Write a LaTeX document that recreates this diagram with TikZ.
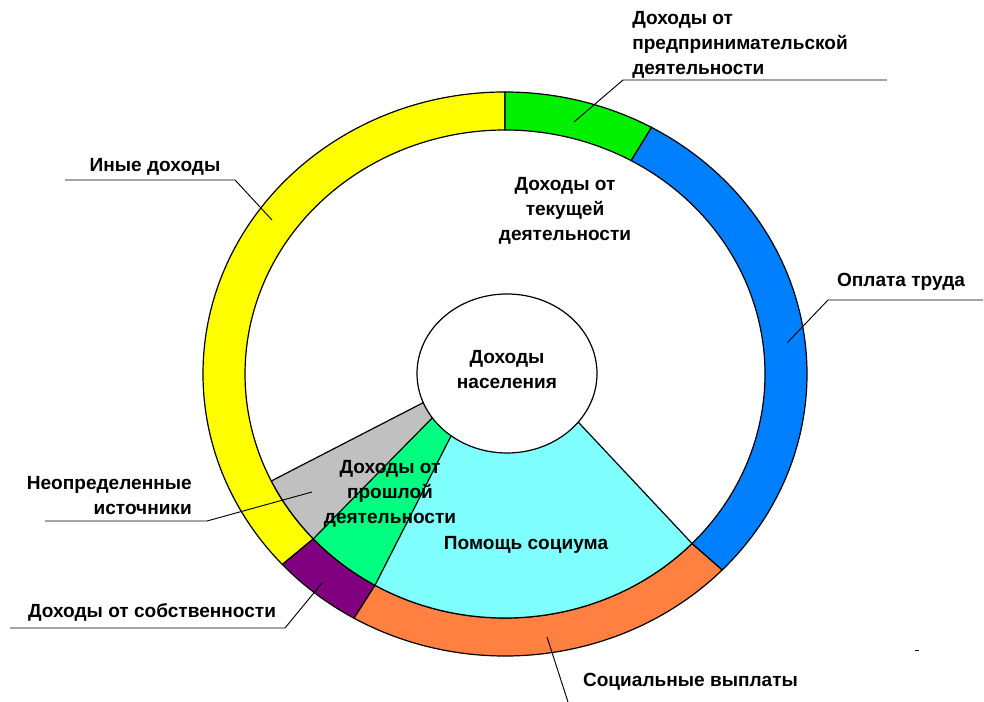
\documentclass[tikz,border=0pt]{standalone}
\usepackage{fontspec}
\setmainfont{Liberation Sans}
\usetikzlibrary{calc,shapes.geometric}
\definecolor{ringyellow}{RGB}{255,255,0}
\definecolor{ringgreen}{RGB}{0,240,0}
\definecolor{ringblue}{RGB}{0,128,255}
\definecolor{ringorange}{RGB}{255,128,64}
\definecolor{ringpurple}{RGB}{128,0,128}
\definecolor{pastgray}{RGB}{192,192,192}
\definecolor{pastgreen}{RGB}{0,255,128}
\definecolor{pastcyan}{RGB}{128,255,255}
\tikzset{
  lbl/.style={font=\fontsize{14.3}{18.75}\selectfont\bfseries, inner sep=0pt, align=center},
  edge/.style={draw=black, line width=0.9pt},
  leader/.style={draw=black, line width=0.7pt},
}
\begin{document}
\begin{tikzpicture}[x=0.75pt, y=0.75pt]
\useasboundingbox (0,0) rectangle (984,702);
\coordinate (C) at (505,328);
\coordinate (Ci) at (507,328.5);

% outer ring
\filldraw[fill=ringyellow, edge] ($(C)+(90:302 and 282)$) arc[start angle=90, end angle=222.5, x radius=302, y radius=282]
  -- ($(C)+(222.5:260 and 244)$) arc[start angle=222.5, end angle=90, x radius=260, y radius=244] -- cycle;
\filldraw[fill=ringpurple, edge] ($(C)+(222.5:302 and 282)$) arc[start angle=222.5, end angle=240, x radius=302, y radius=282]
  -- ($(C)+(240:260 and 244)$) arc[start angle=240, end angle=222.5, x radius=260, y radius=244] -- cycle;
\filldraw[fill=ringorange, edge] ($(C)+(240:302 and 282)$) arc[start angle=240, end angle=316, x radius=302, y radius=282]
  -- ($(C)+(316:260 and 244)$) arc[start angle=316, end angle=240, x radius=260, y radius=244] -- cycle;
\filldraw[fill=ringblue, edge] ($(C)+(-44:302 and 282)$) arc[start angle=-44, end angle=61, x radius=302, y radius=282]
  -- ($(C)+(61:260 and 244)$) arc[start angle=61, end angle=-44, x radius=260, y radius=244] -- cycle;
\filldraw[fill=ringgreen, edge] ($(C)+(61:302 and 282)$) arc[start angle=61, end angle=90, x radius=302, y radius=282]
  -- ($(C)+(90:260 and 244)$) arc[start angle=90, end angle=61, x radius=260, y radius=244] -- cycle;

% past income sectors
\coordinate (g1) at ($(Ci)+(201.5:90 and 79.5)$);
\coordinate (g2) at ($(Ci)+(213.9:90 and 79.5)$);
\coordinate (g3) at ($(Ci)+(231.6:90 and 79.5)$);
\coordinate (g4) at ($(Ci)+(322.3:90 and 79.5)$);
\coordinate (r1) at ($(C)+(206:260 and 244)$);
\coordinate (r2) at ($(C)+(222.5:260 and 244)$);
\coordinate (r3) at ($(C)+(240:260 and 244)$);
\coordinate (r4) at ($(C)+(316:260 and 244)$);
\fill[pastgray] (Ci) -- (g1) -- (r1) arc[start angle=206, end angle=222.5, x radius=260, y radius=244] -- (g2) -- cycle;
\fill[pastgreen] (Ci) -- (g2) -- (r2) arc[start angle=222.5, end angle=240, x radius=260, y radius=244] -- (g3) -- cycle;
\fill[pastcyan] (Ci) -- (g3) -- (r3) arc[start angle=240, end angle=316, x radius=260, y radius=244] -- (g4) -- cycle;
\draw[edge] (g1) -- (r1);
\draw[edge] (g2) -- (r2);
\draw[edge] (g3) -- (r3);
\draw[edge] (g4) -- (r4);
\draw[edge] ($(C)+(206:260 and 244)$) arc[start angle=206, end angle=316, x radius=260, y radius=244];

% centre
\node[lbl, ellipse, edge, fill=white, minimum width=135pt, minimum height=119.25pt] (pop) at (Ci) {};
\node[lbl] (naselenie) at (507,332) {Доходы\\населения};

% labels
\node[lbl] (tekush) at (565,491.5) {Доходы от\\текущей\\деятельности};
\node[lbl] (proshl) at (390,208) {Доходы от\\прошлой\\деятельности};
\node[lbl] (pomosch) at (526,157) {Помощь социума};
\node[lbl, align=left, anchor=west] (predpr) at (632,657) {Доходы от\\предпринимательской\\деятельности};
\node[lbl] (inye) at (155,535) {Иные доходы};
\node[lbl] (oplata) at (901,420) {Оплата труда};
\node[lbl, align=right, anchor=east] (neopr) at (192,206.5) {Неопределенные\\источники};
\node[lbl] (sobstv) at (152,90) {Доходы от собственности};
\node[lbl] (social) at (690.5,20) {Социальные выплаты};

% leaders
\coordinate (predprA) at (574,580);
\coordinate (predprB) at (623,622);
\coordinate (predprC) at (887,622);
\draw[leader] (predprA) -- (predprB) -- (predprC);
\coordinate (inyeA) at (272,482);
\coordinate (inyeB) at (235,522);
\coordinate (inyeC) at (65,522);
\draw[leader] (inyeA) -- (inyeB) -- (inyeC);
\coordinate (oplataA) at (787,359);
\coordinate (oplataB) at (828,402);
\coordinate (oplataC) at (983,402);
\draw[leader] (oplataA) -- (oplataB) -- (oplataC);
\coordinate (neoprA) at (312,210);
\coordinate (neoprB) at (207,181);
\coordinate (neoprC) at (45,181);
\draw[leader] (neoprA) -- (neoprB) -- (neoprC);
\coordinate (sobstvA) at (322,119);
\coordinate (sobstvB) at (285,74);
\coordinate (sobstvC) at (10,74);
\draw[leader] (sobstvA) -- (sobstvB) -- (sobstvC);
\coordinate (socialA) at (547,65);
\coordinate (socialB) at (568,0);
\draw[leader] (socialA) -- (socialB);
\draw[leader] (915,52) -- (919,52);
\end{tikzpicture}
\end{document}
